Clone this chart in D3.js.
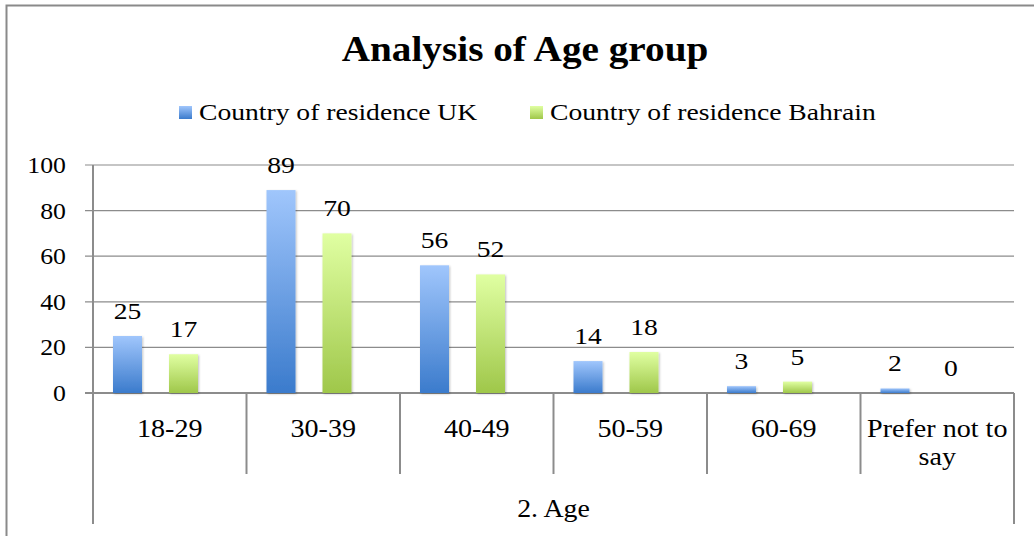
<!DOCTYPE html>
<html>
<head>
<meta charset="utf-8">
<script src="https://cdn.jsdelivr.net/npm/d3@7"></script>
<style>
  body { margin: 0; background: #fff; }
  svg { display: block; font-family: "Liberation Serif", "DejaVu Serif", serif; }
</style>
</head>
<body>
<svg id="chart" width="1034" height="536"></svg>
<script>
// data
const categories = ['18-29', '30-39', '40-49', '50-59', '60-69', 'Prefer not to say'];
const seriesNames = ['Country of residence UK', 'Country of residence Bahrain'];
const ukValues = [25, 89, 56, 14, 3, 2];
const bahrainValues = [17, 70, 52, 18, 5, 0];
const yTicks = [0, 20, 40, 60, 80, 100];
const axisTitle = '2. Age';

const svg = d3.select('#chart');

// the reference font (Cambria) is wider than Liberation Serif, stretch text a bit
function widen(sel, k) {
    sel.each(function() {
        const len = this.getComputedTextLength();
        d3.select(this)
            .attr('textLength', len * k)
            .attr('lengthAdjust', 'spacingAndGlyphs');
    });
}

// frame
svg.append('rect')
    .attr('x', 6.5).attr('y', 5.5)
    .attr('width', 1040).attr('height', 560)
    .attr('fill', 'none')
    .attr('stroke', '#8a8a8a')
    .attr('stroke-width', 2);

const defs = svg.append('defs');
const grads = [
    { id: 'gradUK', top: '#a0c6fc', bottom: '#3b7bcc' },
    { id: 'gradBH', top: '#e0ffa2', bottom: '#9fc74a' }
];
grads.forEach(g => {
    const lg = defs.append('linearGradient')
        .attr('id', g.id)
        .attr('x1', 0).attr('y1', 0).attr('x2', 0).attr('y2', 1);
    lg.append('stop').attr('offset', '0%').attr('stop-color', g.top);
    lg.append('stop').attr('offset', '100%').attr('stop-color', g.bottom);
});
const shadow = defs.append('filter')
    .attr('id', 'barShadow')
    .attr('x', '-30%').attr('y', '-30%')
    .attr('width', '160%').attr('height', '160%');
shadow.append('feDropShadow')
    .attr('dx', 1).attr('dy', 1)
    .attr('stdDeviation', 1.2)
    .attr('flood-color', '#000')
    .attr('flood-opacity', 0.25);

// scales
const x0 = d3.scaleBand().domain(categories).range([93, 1014]);
const x1 = d3.scaleBand().domain(seriesNames).range([20, 105]).paddingInner(0.482);
const y = d3.scaleLinear().domain([0, 100]).range([393, 165]);

// gridlines
svg.append('g')
    .selectAll('line')
    .data(yTicks)
    .join('line')
    .attr('x1', 85).attr('x2', 1014)
    .attr('y1', d => y(d)).attr('y2', d => y(d))
    .attr('stroke', '#8c8c8c')
    .attr('stroke-width', d => d === 0 ? 2 : 1.2);

// y labels
svg.append('g')
    .selectAll('text')
    .data(yTicks)
    .join('text')
    .attr('x', 66)
    .attr('y', d => y(d))
    .attr('dy', '0.35em')
    .attr('text-anchor', 'end')
    .attr('font-size', 23)
    .attr('fill', '#000')
    .text(d => d)
    .call(widen, 1.12);

// y axis line
svg.append('line')
    .attr('x1', 93).attr('x2', 93)
    .attr('y1', y(100)).attr('y2', 524)
    .attr('stroke', '#8c8c8c').attr('stroke-width', 2);

// category dividers
const bounds = categories.map(c => x0(c)).concat([x0.range()[1]]);
svg.append('g')
    .selectAll('line')
    .data(bounds)
    .join('line')
    .attr('x1', d => d).attr('x2', d => d)
    .attr('y1', y(0))
    .attr('y2', (d, i) => (i === 0 || i === bounds.length - 1) ? 524 : 474)
    .attr('stroke', '#8c8c8c').attr('stroke-width', 2);

// bars
const rows = categories.map((c, i) => ({
    cat: c,
    vals: [
        { s: seriesNames[0], v: ukValues[i], fill: 'url(#gradUK)' },
        { s: seriesNames[1], v: bahrainValues[i], fill: 'url(#gradBH)' }
    ]
}));

const groups = svg.append('g')
    .selectAll('g')
    .data(rows)
    .join('g')
    .attr('transform', d => `translate(${x0(d.cat)},0)`);

groups.selectAll('rect')
    .data(d => d.vals.filter(v => v.v > 0))
    .join('rect')
    .attr('x', d => x1(d.s))
    .attr('width', x1.bandwidth())
    .attr('y', d => y(d.v))
    .attr('height', d => y(0) - y(d.v))
    .attr('fill', d => d.fill)
    .attr('filter', 'url(#barShadow)');

groups.selectAll('text.val')
    .data(d => d.vals)
    .join('text')
    .attr('class', 'val')
    .attr('x', d => x1(d.s) + x1.bandwidth() / 2)
    .attr('y', d => y(d.v) - 17)
    .attr('text-anchor', 'middle')
    .attr('font-size', 24)
    .text(d => d.v)
    .call(widen, 1.15);

// category labels (one text per line)
const catLines = [];
categories.forEach(c => {
    const lines = c === 'Prefer not to say' ? ['Prefer not to', 'say'] : [c];
    lines.forEach((ln, i) => catLines.push({ cat: c, text: ln, row: i }));
});
svg.append('g')
    .selectAll('text')
    .data(catLines)
    .join('text')
    .attr('x', d => x0(d.cat) + x0.bandwidth() / 2)
    .attr('y', d => 437 + d.row * 28)
    .attr('text-anchor', 'middle')
    .attr('font-size', 26)
    .text(d => d.text)
    .call(widen, 1.08);

svg.append('text')
    .attr('x', (93 + 1014) / 2)
    .attr('y', 517)
    .attr('text-anchor', 'middle')
    .attr('font-size', 26)
    .text(axisTitle)
    .call(widen, 1.07);

// title
svg.append('text')
    .attr('x', 525)
    .attr('y', 61)
    .attr('text-anchor', 'middle')
    .attr('font-size', 36)
    .attr('font-weight', 'bold')
    .text('Analysis of Age group')
    .call(widen, 1.09);

// legend
const legendItems = [
    { name: seriesNames[0], fill: 'url(#gradUK)', x: 179 },
    { name: seriesNames[1], fill: 'url(#gradBH)', x: 530 }
];
const lg = svg.append('g')
    .selectAll('g')
    .data(legendItems)
    .join('g')
    .attr('transform', d => `translate(${d.x},106)`);
lg.append('rect')
    .attr('width', 13).attr('height', 13)
    .attr('fill', d => d.fill);
lg.append('text')
    .attr('x', 20)
    .attr('y', 14)
    .attr('font-size', 24)
    .text(d => d.name)
    .call(widen, 1.15);
</script>
</body>
</html>
